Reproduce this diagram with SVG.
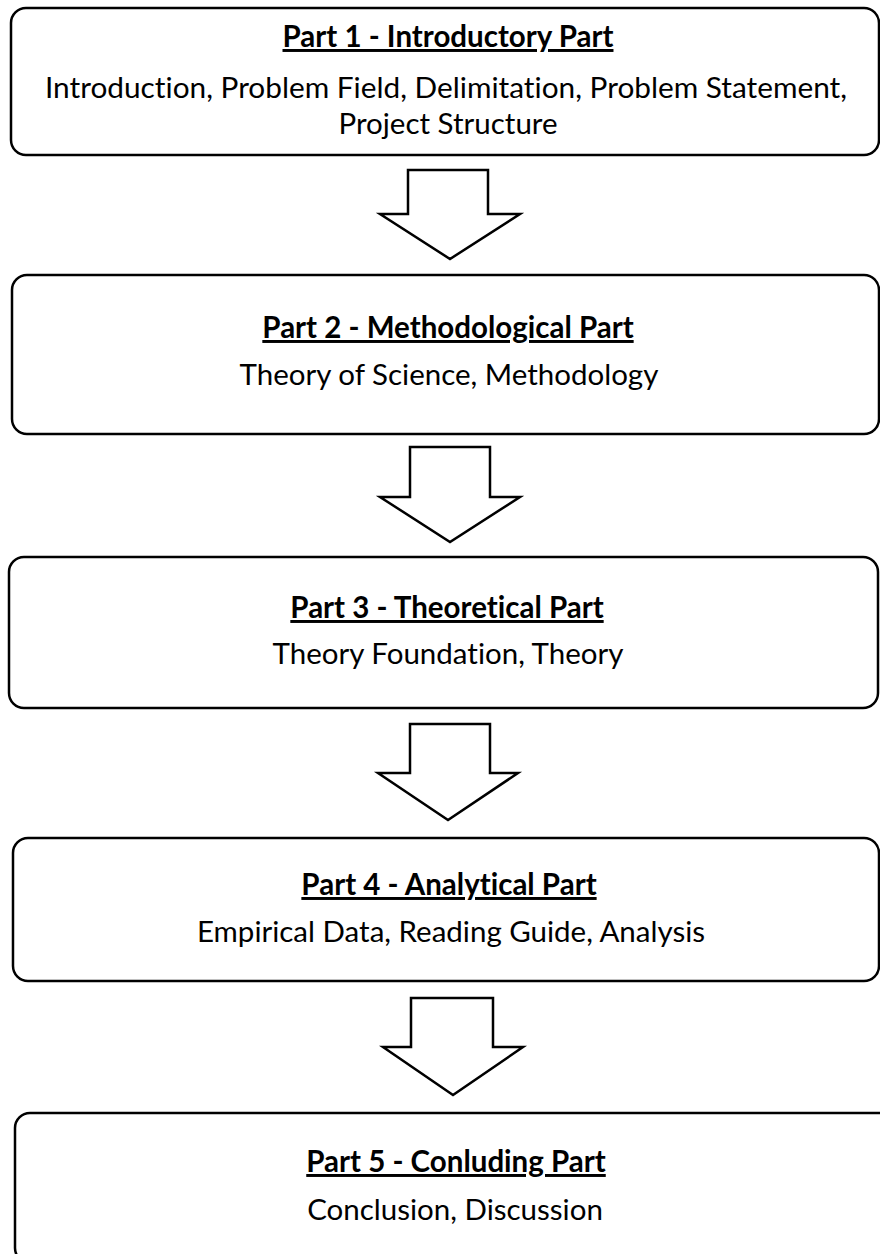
<svg xmlns="http://www.w3.org/2000/svg" width="880" height="1254" viewBox="0 0 880 1254">
<style>
.box{fill:#fff;stroke:#000;stroke-width:2.5}
.arr{fill:#fff;stroke:#000;stroke-width:2.5;stroke-linejoin:miter}
.t{font-family:Lato,"Open Sans",sans-serif;font-size:29.5px;fill:#000;text-anchor:middle;font-variant-ligatures:none}
.h{font-weight:bold;text-decoration:underline}
</style>
<rect width="880" height="1254" fill="#fff"/>
<g id="part1">
<rect class="box" x="11" y="8" width="868" height="147" rx="15"/>
<text class="t h" x="448" y="47">Part 1 - Introductory Part</text>
<text class="t" x="446" y="98" textLength="802" lengthAdjust="spacingAndGlyphs">Introduction, Problem Field, Delimitation, Problem Statement,</text>
<text class="t" x="448" y="134">Project Structure</text>
</g>
<g id="part2">
<rect class="box" x="12" y="275" width="867" height="159" rx="15"/>
<text class="t h" x="448" y="338">Part 2 - Methodological Part</text>
<text class="t" x="449" y="385">Theory of Science, Methodology</text>
</g>
<g id="part3">
<rect class="box" x="9" y="557" width="869" height="151" rx="15"/>
<text class="t h" x="447" y="618">Part 3 - Theoretical Part</text>
<text class="t" x="448" y="664">Theory Foundation, Theory</text>
</g>
<g id="part4">
<rect class="box" x="13" y="838" width="866" height="143" rx="15"/>
<text class="t h" x="449" y="895">Part 4 - Analytical Part</text>
<text class="t" x="451" y="942">Empirical Data, Reading Guide, Analysis</text>
</g>
<g id="part5">
<rect class="box" x="15" y="1113" width="880" height="150" rx="15"/>
<text class="t h" x="456" y="1172">Part 5 - Conluding Part</text>
<text class="t" x="455" y="1220">Conclusion, Discussion</text>
</g>
<g id="connectors">
<polygon class="arr" points="408,170 488,170 488,214 520,214 450,259 380,214 408,214"/>
<polygon class="arr" points="410,447 490,447 490,497 520,497 450,542 380,497 410,497"/>
<polygon class="arr" points="410,724 490,724 490,773 518,773 448,820 378,773 410,773"/>
<polygon class="arr" points="411,998 493,998 493,1047 523,1047 453,1095 383,1047 411,1047"/>
</g>
</svg>
